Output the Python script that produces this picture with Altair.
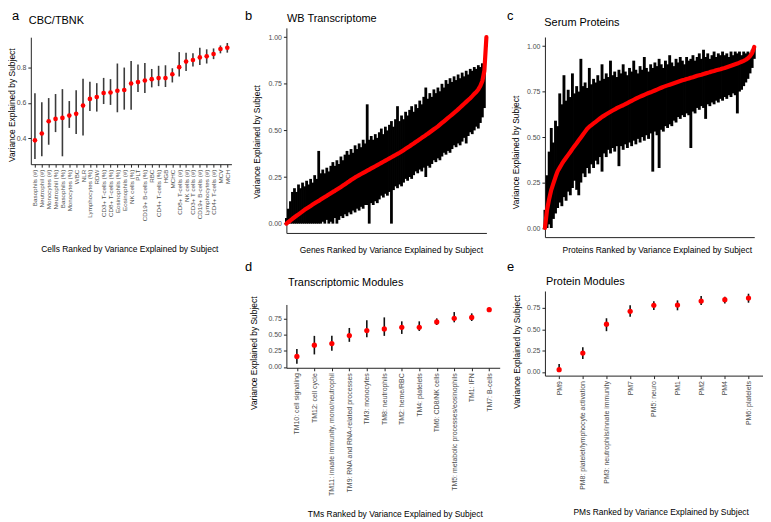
import altair as alt
import pandas as pd

FONT = "Liberation Sans"
RED = "#ff0000"
YTITLE = "Variance Explained by Subject"

# ---------------- panel a : CBC/TBNK ----------------
a_labels = ["Basophils (#)", "Neutrophil (#)", "Monocytes (#)", "Neutrophil (%)", "Basophils (%)",
            "Monocytes (%)", "WBC", "NLR", "Lymphocytes (%)", "RDW", "CD3+ T-cells (%)",
            "CD8+ T-cells (%)", "Eosinophils (%)", "Eosinophils (#)", "NK cells (%)", "PLT",
            "CD19+ B-cells (%)", "RBC", "CD4+ T-cells (%)", "HGB", "MCHC", "CD8+ T-cells (#)",
            "NK cells (#)", "CD3+ T cells (#)", "CD19+ B-cells (#)", "Lymphocytes (#)",
            "CD4+ T-cells (#)", "MCV", "MCH"]
a_mid = [0.387, 0.426, 0.496, 0.509, 0.515, 0.528, 0.538, 0.585, 0.623, 0.634, 0.657, 0.660, 0.670,
         0.674, 0.711, 0.719, 0.728, 0.736, 0.742, 0.742, 0.764, 0.804, 0.836, 0.845, 0.860, 0.866,
         0.879, 0.908, 0.915]
a_lo = [0.281, 0.296, 0.362, 0.434, 0.296, 0.458, 0.423, 0.415, 0.555, 0.551, 0.594, 0.589, 0.547,
        0.562, 0.562, 0.662, 0.657, 0.689, 0.696, 0.691, 0.717, 0.751, 0.783, 0.808, 0.817, 0.825,
        0.850, 0.883, 0.887]
a_hi = [0.655, 0.604, 0.628, 0.651, 0.679, 0.611, 0.672, 0.738, 0.721, 0.713, 0.743, 0.736, 0.825,
        0.802, 0.840, 0.819, 0.828, 0.794, 0.812, 0.815, 0.798, 0.890, 0.887, 0.883, 0.915, 0.906,
        0.911, 0.928, 0.942]

# ---------------- panel b : WB transcriptome (ranked genes) ----------------
b_mid = [0.000, 0.009, 0.017, 0.026, 0.034, 0.042, 0.050, 0.058, 0.066, 0.074,
         0.081, 0.088, 0.095, 0.102, 0.109, 0.116, 0.122, 0.129, 0.136, 0.143,
         0.149, 0.156, 0.163, 0.170, 0.176, 0.183, 0.190, 0.197, 0.204, 0.211,
         0.219, 0.226, 0.234, 0.241, 0.248, 0.254, 0.260, 0.266, 0.272, 0.278,
         0.284, 0.290, 0.296, 0.302, 0.308, 0.314, 0.320, 0.326, 0.332, 0.338,
         0.344, 0.350, 0.356, 0.362, 0.368, 0.374, 0.380, 0.387, 0.394, 0.401,
         0.408, 0.415, 0.423, 0.430, 0.438, 0.445, 0.452, 0.460, 0.467, 0.475,
         0.482, 0.490, 0.498, 0.506, 0.514, 0.522, 0.531, 0.540, 0.549, 0.558,
         0.567, 0.576, 0.585, 0.594, 0.603, 0.613, 0.623, 0.633, 0.643, 0.653,
         0.663, 0.673, 0.684, 0.696, 0.706, 0.720, 0.738, 0.765, 0.820, 1.000]
b_hi = [0.03, 0.08, 0.12, 0.17, 0.19, 0.17, 0.21, 0.19, 0.22, 0.20,
        0.23, 0.21, 0.24, 0.22, 0.26, 0.24, 0.39, 0.27, 0.29, 0.27,
        0.30, 0.28, 0.31, 0.33, 0.31, 0.34, 0.32, 0.36, 0.34, 0.37,
        0.39, 0.37, 0.40, 0.38, 0.42, 0.40, 0.43, 0.41, 0.45, 0.43,
        0.64, 0.45, 0.47, 0.45, 0.48, 0.46, 0.49, 0.51, 0.48, 0.52,
        0.50, 0.53, 0.55, 0.52, 0.56, 0.63, 0.55, 0.58, 0.56, 0.60,
        0.58, 0.61, 0.63, 0.60, 0.64, 0.62, 0.66, 0.64, 0.68, 0.73,
        0.67, 0.70, 0.68, 0.72, 0.70, 0.73, 0.71, 0.75, 0.73, 0.77,
        0.75, 0.78, 0.76, 0.79, 0.77, 0.80, 0.78, 0.81, 0.79, 0.82,
        0.80, 0.83, 0.82, 0.84, 0.83, 0.85, 0.84, 0.86, 0.88, 1.00]
b_lo = [0.00, 0.00, 0.00, 0.00, 0.00, 0.00, 0.00, 0.00, 0.00, 0.00,
        0.00, 0.00, 0.00, 0.00, 0.00, 0.00, 0.00, 0.00, 0.01, 0.00,
        0.02, 0.00, 0.01, 0.00, 0.03, 0.00, 0.02, 0.04, 0.03, 0.05,
        0.04, 0.06, 0.05, 0.07, 0.06, 0.08, 0.07, 0.09, 0.08, 0.10,
        0.10, 0.00, 0.11, 0.10, 0.12, 0.11, 0.13, 0.15, 0.14, 0.16,
        0.15, 0.17, 0.00, 0.18, 0.20, 0.19, 0.21, 0.20, 0.22, 0.24,
        0.23, 0.25, 0.24, 0.26, 0.28, 0.27, 0.29, 0.28, 0.30, 0.25,
        0.31, 0.30, 0.32, 0.34, 0.33, 0.35, 0.34, 0.36, 0.38, 0.37,
        0.39, 0.38, 0.40, 0.42, 0.41, 0.43, 0.42, 0.44, 0.46, 0.43,
        0.47, 0.49, 0.48, 0.50, 0.52, 0.51, 0.54, 0.57, 0.62, 0.95]

# ---------------- panel c : serum proteins (ranked proteins) ----------------
c_mid = [0.000, 0.100, 0.160, 0.210, 0.245, 0.280, 0.312, 0.332, 0.352, 0.370,
         0.386, 0.402, 0.418, 0.435, 0.451, 0.466, 0.482, 0.498, 0.514, 0.530,
         0.546, 0.557, 0.566, 0.575, 0.584, 0.593, 0.602, 0.611, 0.618, 0.625,
         0.632, 0.639, 0.646, 0.652, 0.659, 0.665, 0.670, 0.675, 0.681, 0.687,
         0.693, 0.699, 0.705, 0.711, 0.717, 0.722, 0.727, 0.732, 0.737, 0.742,
         0.746, 0.751, 0.756, 0.761, 0.766, 0.771, 0.776, 0.780, 0.784, 0.788,
         0.792, 0.796, 0.800, 0.804, 0.808, 0.812, 0.815, 0.819, 0.822, 0.826,
         0.829, 0.833, 0.837, 0.840, 0.843, 0.847, 0.850, 0.853, 0.857, 0.860,
         0.863, 0.867, 0.870, 0.873, 0.877, 0.880, 0.884, 0.888, 0.892, 0.896,
         0.900, 0.904, 0.909, 0.914, 0.919, 0.925, 0.933, 0.945, 0.962, 0.995]
c_hi = [0.10, 0.29, 0.42, 0.55, 0.47, 0.59, 0.56, 0.74, 0.68, 0.84,
        0.70, 0.76, 0.72, 0.85, 0.74, 0.78, 0.75, 0.93, 0.78, 0.80,
        0.77, 0.88, 0.79, 0.82, 0.80, 0.84, 0.81, 0.90, 0.82, 0.85,
        0.83, 0.92, 0.84, 0.86, 0.83, 0.87, 0.85, 0.90, 0.86, 0.84,
        0.88, 0.86, 0.92, 0.87, 0.85, 0.89, 0.87, 0.94, 0.88, 0.86,
        0.90, 0.88, 0.91, 0.89, 0.93, 0.90, 0.88, 0.92, 0.90, 0.95,
        0.91, 0.89, 0.93, 0.91, 0.94, 0.92, 0.90, 0.94, 0.92, 0.93,
        0.95, 0.92, 0.94, 0.96, 0.93, 0.98, 0.94, 0.96, 0.93, 0.95,
        0.97, 0.94, 0.96, 0.95, 0.97, 0.95, 0.96, 0.94, 0.97, 0.95,
        0.97, 0.96, 0.97, 0.95, 0.97, 0.96, 0.97, 0.96, 0.98, 1.00]
c_lo = [0.00, 0.00, 0.02, 0.00, 0.05, 0.08, 0.11, 0.14, 0.12, 0.17,
        0.15, 0.20, 0.18, 0.22, 0.26, 0.21, 0.18, 0.25, 0.30, 0.28,
        0.33, 0.30, 0.35, 0.33, 0.37, 0.35, 0.39, 0.31, 0.41, 0.39,
        0.43, 0.41, 0.44, 0.42, 0.45, 0.34, 0.45, 0.43, 0.46, 0.44,
        0.47, 0.45, 0.48, 0.46, 0.49, 0.47, 0.50, 0.48, 0.51, 0.49,
        0.52, 0.31, 0.53, 0.51, 0.33, 0.54, 0.53, 0.56, 0.55, 0.57,
        0.56, 0.59, 0.58, 0.61, 0.60, 0.62, 0.61, 0.63, 0.62, 0.44,
        0.64, 0.63, 0.66, 0.65, 0.67, 0.66, 0.60, 0.68, 0.67, 0.69,
        0.68, 0.70, 0.69, 0.71, 0.70, 0.72, 0.71, 0.73, 0.72, 0.74,
        0.73, 0.63, 0.75, 0.76, 0.78, 0.80, 0.82, 0.85, 0.88, 0.93]

# ---------------- panel d : transcriptomic modules ----------------
d_labels = ["TM10: cell signaling", "TM12: cell cycle", "TM11: innate immunity, mono/neutrophil",
            "TM9: RNA and RNA-related processes", "TM3: monocytes", "TM8: neutrophils",
            "TM2: heme/RBC", "TM4: platelets", "TM6: CD8/NK cells",
            "TM5: metabolic processes/eosinophils", "TM1: IFN", "TM7: B-cells"]
d_mid = [0.163, 0.337, 0.362, 0.485, 0.561, 0.587, 0.612, 0.612, 0.694, 0.750, 0.765, 0.883]
d_lo = [0.050, 0.194, 0.250, 0.388, 0.459, 0.480, 0.510, 0.556, 0.648, 0.689, 0.709, 0.852]
d_hi = [0.276, 0.480, 0.480, 0.602, 0.720, 0.765, 0.704, 0.704, 0.750, 0.847, 0.827, 0.913]

# ---------------- panel e : protein modules ----------------
e_labels = ["PM9", "PM8: platelet/lymphocyte activation", "PM3: neutrophils/innate immunity",
            "PM7", "PM5: neuro", "PM1", "PM2", "PM4", "PM6: platelets"]
e_mid = [0.027, 0.221, 0.558, 0.709, 0.779, 0.783, 0.829, 0.845, 0.864]
e_lo = [0.000, 0.151, 0.477, 0.647, 0.725, 0.721, 0.783, 0.802, 0.810]
e_hi = [0.093, 0.290, 0.628, 0.779, 0.826, 0.837, 0.887, 0.880, 0.915]


def txt(s, x, y, size, baseline="top"):
    return alt.Chart(pd.DataFrame({"t": [s]})).mark_text(
        text=s, fontSize=size, font=FONT, align="left", baseline=baseline, color="#000"
    ).encode(x=alt.value(x), y=alt.value(y))


def y_axis(values, fmt, tx, ty):
    return alt.Axis(title=YTITLE, values=values, format=fmt, titleX=tx, titleY=ty,
                    titleAngle=270, titleAlign="center", titleBaseline="middle")


def cat_panel(labels, mid, lo, hi, w, h, ydom, yrange, yvals, fmt, lab_size, xtitle,
              xtx, xty, ytx, yty, bar_color, pt_size, letter, lx, ly, title, tx, ty):
    df = pd.DataFrame({"cat": labels, "mid": mid, "lo": lo, "hi": hi})
    xenc = alt.X("cat:N", sort=labels, scale=alt.Scale(type="point", padding=0.6),
                 axis=alt.Axis(title=xtitle, labelAngle=270, labelFontSize=lab_size,
                               labelLimit=400, labelOverlap=False, titleX=xtx, titleY=xty,
                               titleAlign="center", titleBaseline="middle"))
    ysc = alt.Scale(domain=ydom, range=yrange, nice=False, zero=False)
    ax = y_axis(yvals, fmt, ytx, yty)
    bars = alt.Chart(df).mark_rule(color=bar_color, strokeWidth=1.6).encode(
        x=xenc, y=alt.Y("lo:Q", scale=ysc, axis=ax), y2="hi:Q")
    pts = alt.Chart(df).mark_circle(color=RED, size=pt_size, opacity=1).encode(
        x=xenc, y=alt.Y("mid:Q", scale=ysc, axis=ax))
    return alt.layer(bars, pts, txt(letter, lx, ly, 13), txt(title, tx, ty, 11, "middle")).properties(
        width=w, height=h)


def curve_panel(mid, lo, hi, w, h, yrange, xtitle, xtx, xty, ytx, yty, sw,
                letter, lx, ly, title, tx, ty):
    df = pd.DataFrame({"i": list(range(len(mid))), "mid": mid, "lo": lo, "hi": hi})
    xenc = alt.X("i:Q", scale=alt.Scale(domain=[0, len(mid) - 1], nice=False, zero=False),
                 axis=alt.Axis(title=xtitle, labels=False, ticks=False, titleX=xtx, titleY=xty,
                               titleAlign="center", titleBaseline="middle"))
    ysc = alt.Scale(domain=[-0.05, 1.05], range=yrange, nice=False, zero=False)
    ax = y_axis([0, 0.25, 0.5, 0.75, 1.0], ".2f", ytx, yty)
    bars = alt.Chart(df).mark_rule(color="#000", strokeWidth=sw).encode(
        x=xenc, y=alt.Y("lo:Q", scale=ysc, axis=ax), y2="hi:Q")
    line = alt.Chart(df).mark_line(color=RED, strokeWidth=4.2, strokeCap="round",
                                   strokeJoin="round").encode(
        x=xenc, y=alt.Y("mid:Q", scale=ysc, axis=ax))
    return alt.layer(bars, line, txt(letter, lx, ly, 13), txt(title, tx, ty, 11, "middle")).properties(
        width=w, height=h)


pa = cat_panel(a_labels, a_mid, a_lo, a_hi, 202.2, 137.4, [0.251, 0.975], [137.4, 9.4],
               [0.4, 0.6, 0.8], ".1f", 6.3, "Cells Ranked by Variance Explained by Subject",
               99.3, 85, -19, 77.4, "#3c3c3c", 22, "a", -19, -17.6, "CBC/TBNK", -2, -6.6)

pb = curve_panel(b_mid, b_lo, b_hi, 201.6, 206.7, [206.7, 0],
                 "Genes Ranked by Variance Explained by Subject", 105.3, 16.7, -30, 114.4, 2.8,
                 "b", -41.7, -17.6, "WB Transcriptome", 0.6, -8.6)

pc = curve_panel(c_mid, c_lo, c_hi, 211, 210.9, [210.9, 9.2],
                 "Proteins Ranked by Variance Explained by Subject", 112.7, 12.5, -30, 125.1, 2.9,
                 "c", -38.3, -17.6, "Serum Proteins", -0.6, -4.6)

blank = alt.Chart(pd.DataFrame({"v": [0]})).mark_point(opacity=0).encode(
    x=alt.X("v:Q", axis=None), y=alt.Y("v:Q", axis=None)).properties(width=211.4, height=1)

pd_ = cat_panel(d_labels, d_mid, d_lo, d_hi, 215, 77.4, [-0.012, 0.964], [77.4, 13.6],
                [0, 0.25, 0.5, 0.75], ".2f", 7, "TMs Ranked by Variance Explained by Subject",
                109.3, 147, -32.7, 62.3, "#111111", 28, "d", -41.7, -29.7,
                "Transcriptomic Modules", 1.6, -8)

pe = cat_panel(e_labels, e_mid, e_lo, e_hi, 219.5, 85.3, [-0.043, 0.947], [85.3, 0],
               [0, 0.25, 0.5, 0.75], ".2f", 7, "PMs Ranked by Variance Explained by Subject",
               116.7, 137, -28.3, 61, "#111111", 28, "e", -38.3, -29.7,
               "Protein Modules", 1, -9.4)

chart = alt.concat(pa, pb, pc, blank, pd_, pe, columns=3,
                   spacing={"row": 54.2, "column": 45.6}, bounds="flush").properties(
    padding=0, background="white"
).configure(font=FONT).configure_axis(
    labelFont=FONT, titleFont=FONT, labelFontSize=7, labelColor="#4d4d4d",
    titleFontSize=8.5, titleFontWeight="normal", titleColor="#000",
    domainColor="#222", domainWidth=1, tickColor="#222", tickSize=3, tickWidth=1,
    grid=False, labelPadding=2
).configure_view(stroke=None)

chart.save("out.html", embed_options={"renderer": "svg", "actions": False})
